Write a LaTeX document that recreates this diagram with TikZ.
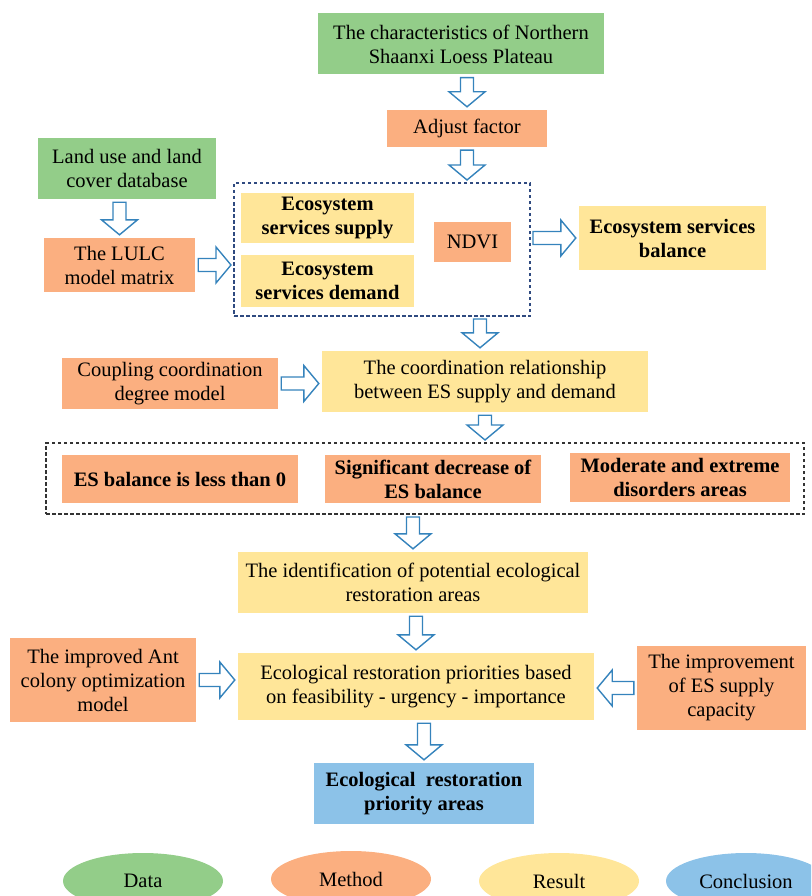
\documentclass[tikz,border=0pt]{standalone}
\usepackage{fontspec}
\setmainfont{Liberation Serif}
\usetikzlibrary{calc,shapes.geometric}
\definecolor{datagreen}{HTML}{93CD89}
\definecolor{methorange}{HTML}{FBAF80}
\definecolor{resyellow}{HTML}{FFE699}
\definecolor{concblue}{HTML}{8CC2E8}
\definecolor{arrblue}{HTML}{3583BC}
\definecolor{boxblue}{HTML}{2F4A80}
\tikzset{
  box/.style={inner sep=1pt, align=center, font=\fontsize{20.5}{24}\selectfont},
  data/.style={box, fill=datagreen},
  method/.style={box, fill=methorange},
  result/.style={box, fill=resyellow},
  conclusion/.style={box, fill=concblue},
  bold/.style={font=\fontsize{20.5}{24}\selectfont\bfseries},
  blockarr/.style={draw=arrblue, fill=white, line width=1.4pt, line join=miter},
  group/.style={inner sep=0pt, outer sep=0pt, line width=1.1pt, dash pattern=on 3.5pt off 2.5pt},
  legend/.style={ellipse, minimum width=160, minimum height=56, inner sep=0pt, font=\fontsize{20.5}{24}\selectfont},
}
% hollow block arrow from one point to another
\newcommand\blockarrow[2]{%
  \path[blockarr] let \p1=#1, \p2=#2, \n1={atan2(\y2-\y1,\x2-\x1)} in
    ($(\p1)+(\n1:3pt)+(\n1+90:6.5pt)$) -- ($(\p2)+(\n1:-18pt)+(\n1+90:6.5pt)$)
    -- ($(\p2)+(\n1:-18pt)+(\n1+90:18pt)$) -- ($(\p2)+(\n1:-3pt)$)
    -- ($(\p2)+(\n1:-18pt)+(\n1-90:18pt)$) -- ($(\p2)+(\n1:-18pt)+(\n1-90:6.5pt)$)
    -- ($(\p1)+(\n1:3pt)+(\n1-90:6.5pt)$) -- cycle;}
\begin{document}
\begin{tikzpicture}[x=1pt, y=-1pt]
  \clip (0,0) rectangle (811,896);
  % top part
  \node[data, minimum width=286, minimum height=61] (top) at (461,44) {The characteristics of Northern\\Shaanxi Loess Plateau};
  \node[method, minimum width=160, minimum height=37] (adj) at (467,128.5) {Adjust factor};
  \node[data, minimum width=178, minimum height=61] (land) at (127,168.5) {Land use and land\\cover database};
  \node[method, minimum width=151, minimum height=54] (lulc) at (119.5,265) {The LULC\\model matrix};
  \node[group, draw=boxblue, minimum width=296, minimum height=133] (esbox) at (382,249.5) {};
  \node[result, bold, minimum width=173, minimum height=50] (sup) at (327.5,218) {Ecosystem\\services supply};
  \node[result, bold, minimum width=173, minimum height=52] (dem) at (327.5,281) {Ecosystem\\services demand};
  \node[method, minimum width=77, minimum height=40] (ndvi) at (472.5,242) {NDVI};
  \node[result, bold, minimum width=187, minimum height=64] (bal) at (672.5,238) {Ecosystem services\\balance};
  % coordination
  \node[method, minimum width=216, minimum height=51] (coup) at (170,383.5) {Coupling coordination\\degree model};
  \node[result, minimum width=326, minimum height=61] (coord) at (485,381.5) {The coordination relationship\\between ES supply and demand};
  \node[group, draw=black!80, minimum width=758, minimum height=71] (crit) at (425,478.5) {};
  \node[method, bold, minimum width=236, minimum height=48] (less) at (180,479) {ES balance is less than 0};
  \node[method, bold, minimum width=216, minimum height=48] (sig) at (433,479) {Significant decrease of\\ES balance};
  \node[method, bold, minimum width=220, minimum height=49] (mod) at (680,477.5) {Moderate and extreme\\disorders areas};
  % restoration
  \node[result, minimum width=350, minimum height=61] (ident) at (413,582.5) {The identification of potential ecological\\restoration areas};
  \node[method, minimum width=186, minimum height=84] (ant) at (103,680) {The improved Ant\\colony optimization\\model};
  \node[result, minimum width=356, minimum height=67] (prio) at (416,686.5) {Ecological restoration priorities based\\on feasibility - urgency - importance};
  \node[method, minimum width=169, minimum height=84] (impr) at (721.5,688) {The improvement\\of ES supply\\capacity};
  \node[conclusion, bold, minimum width=220, minimum height=61] (concl) at (424,793.5) {Ecological\ \ restoration\\priority areas};
  % legend
  \node[legend, fill=datagreen] (lgdata) at (143,881) {Data};
  \node[legend, fill=methorange] (lgmeth) at (351,879) {Method};
  \node[legend, fill=resyellow] (lgres) at (559,881) {Result};
  \node[legend, fill=concblue] (lgconc) at (746,881) {Conclusion};
  % arrows
  \blockarrow{(adj.north |- top.south)}{(adj.north)}
  \blockarrow{(adj.south)}{(adj.south |- esbox.north)}
  \blockarrow{(lulc.north |- land.south)}{(lulc.north)}
  \blockarrow{(lulc.east)}{(lulc.east -| esbox.west)}
  \blockarrow{(esbox.east |- bal.west)}{(bal.west)}
  \blockarrow{([xshift=-5pt]coord.north |- esbox.south)}{([xshift=-5pt]coord.north)}
  \blockarrow{(coup.east)}{(coup.east -| coord.west)}
  \blockarrow{(coord.south)}{(coord.south |- crit.north)}
  \blockarrow{(ident.north |- crit.south)}{(ident.north)}
  \blockarrow{(prio.north |- ident.south)}{(prio.north)}
  \blockarrow{(ant.east)}{(ant.east -| prio.west)}
  \blockarrow{(impr.west)}{(impr.west -| prio.east)}
  \blockarrow{(concl.north |- prio.south)}{(concl.north)}
\end{tikzpicture}
\end{document}
